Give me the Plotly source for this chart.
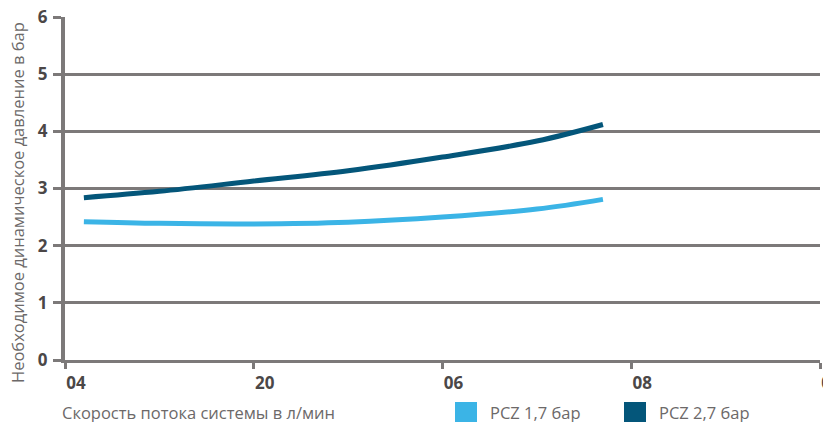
import plotly.graph_objects as go

# flow values (axis units) and pressure for each valve setting
flow = [2, 10, 20, 30, 40, 50, 57]
pcz_17 = [2.42, 2.39, 2.38, 2.41, 2.50, 2.64, 2.81]
pcz_27 = [2.84, 2.95, 3.13, 3.31, 3.55, 3.83, 4.12]

x_ticks = [0, 20, 40, 60, 80]
x_ticktext = ["04", "20", "06", "08", "00"]
y_ticks = [0, 1, 2, 3, 4, 5, 6]

names = ["PCZ 1,7 бар", "PCZ 2,7 бар"]
colors = ["#3bb4e6", "#04567a"]
grey = "#7c7979"
font = "Open Sans"

fig = go.Figure()
for ys, name, col in zip([pcz_17, pcz_27], names, colors):
    fig.add_trace(go.Scatter(x=flow, y=ys, name=name, mode="lines",
                             line=dict(color=col, width=5, shape="spline"),
                             showlegend=False))

# page body has an 8px margin, so the figure is sized 8px smaller
fig.update_layout(
    width=823, height=414,
    margin=dict(l=57, r=11, t=9, b=62),
    plot_bgcolor="white", paper_bgcolor="white",
    font=dict(family=font, color="#6c6969"),
    xaxis=dict(range=[0, 80], tickvals=x_ticks, ticktext=x_ticktext,
               showgrid=False, zeroline=False, showline=True, automargin=False,
               linecolor=grey, linewidth=3, ticks="outside", ticklen=6,
               tickwidth=3, tickcolor=grey, ticklabelshift=11,
               ticklabeloverflow="allow",
               tickfont=dict(family=font, size=17, color="#4b4747", weight="bold")),
    yaxis=dict(range=[0, 6], tickvals=y_ticks, showgrid=True, automargin=False,
               gridcolor=grey, gridwidth=3, zeroline=False, showline=True,
               linecolor=grey, linewidth=4, ticks="outside", ticklen=8,
               tickwidth=3, tickcolor=grey, ticklabelstandoff=2,
               ticklabeloverflow="allow",
               tickfont=dict(family=font, size=17, color="#4b4747", weight="bold")),
)

# axis titles
fig.add_annotation(text="Необходимое динамическое давление в бар", textangle=-90,
                   xref="paper", yref="paper", x=(17 - 65) / 755, y=(360 - 203) / 343,
                   xanchor="center", yanchor="middle", showarrow=False,
                   font=dict(size=16.5, color="#6c6969"))
fig.add_annotation(text="Скорость потока системы в л/мин",
                   xref="paper", yref="paper", x=(60 - 65) / 755, y=(360 - 413) / 343,
                   xanchor="left", yanchor="middle", showarrow=False,
                   font=dict(size=16.5, color="#6c6969"))

# legend drawn as squares + labels
for name, col, x0 in zip(names, colors, [455, 624]):
    fig.add_shape(type="rect", xref="paper", yref="paper",
                  x0=(x0 - 65) / 755, x1=(x0 + 22 - 65) / 755,
                  y0=(360 - 402) / 343, y1=(360 - 422) / 343,
                  fillcolor=col, line=dict(width=0))
    fig.add_annotation(text=name, xref="paper", yref="paper",
                       x=(x0 + 33 - 65) / 755, y=(360 - 413) / 343,
                       xanchor="left", yanchor="middle", showarrow=False,
                       font=dict(size=16.5, color="#6c6969"))

fig.write_html("out.html")
